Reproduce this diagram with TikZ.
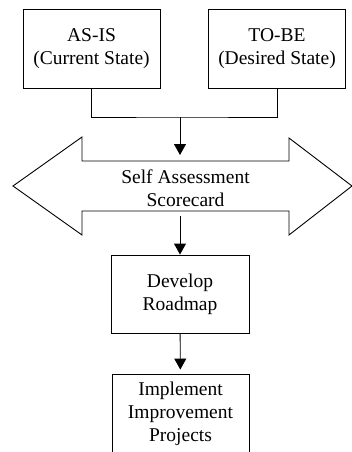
\documentclass[tikz,border=0pt]{standalone}
\usepackage{fontspec}
\setmainfont{Liberation Serif}
\usepackage{tikz}
\usetikzlibrary{arrows.meta}

\begin{document}
\begin{tikzpicture}[
  x=1pt, y=-1pt,
  every node/.style={font=\fontsize{19.5}{23}\selectfont, align=center},
  box/.style={draw, line width=0.9pt, minimum width=137pt, minimum height=79pt, inner sep=0pt},
  block/.style={draw, line width=0.9pt, line join=miter},
  lbl/.style={inner sep=0pt},
  link/.style={line width=0.9pt},
  arr/.style={link, -{Triangle[length=11pt, width=12pt]}}
]
\useasboundingbox (0,0) rectangle (351,452);
\node[box] (asis) at (91.5,48.5) {AS-IS\\(Current State)};
\node[box] (tobe) at (277,48.5) {TO-BE\\(Desired State)};
% two-headed block arrow
\draw[block] (13,186) -- (82,137) -- (82,161) -- (289,161) -- (289,138) -- (352,186)
  -- (289,235) -- (289,211) -- (82,211) -- (82,235) -- cycle;
\node[lbl] (score) at (185.5,188) {Self Assessment\\Scorecard};
\node[box, minimum width=138pt, minimum height=78pt] (dev) at (180,294) {Develop\\Roadmap};
\node[box, minimum height=80pt] (impl) at (180.5,414) {Implement\\Improvement\\Projects};
\coordinate (join) at (180,117);
\coordinate (shafttop) at (180,161);
\coordinate (shaftbot) at (180,211);
\draw[link] (asis.south) |- (join) -| (tobe.south);
\draw[arr, shorten >=6pt] (join) -- (shafttop);
\draw[arr, shorten <=5pt] (shaftbot) -- (dev.north);
\draw[arr, shorten >=4pt] (dev) -- (impl);
\end{tikzpicture}
\end{document}
